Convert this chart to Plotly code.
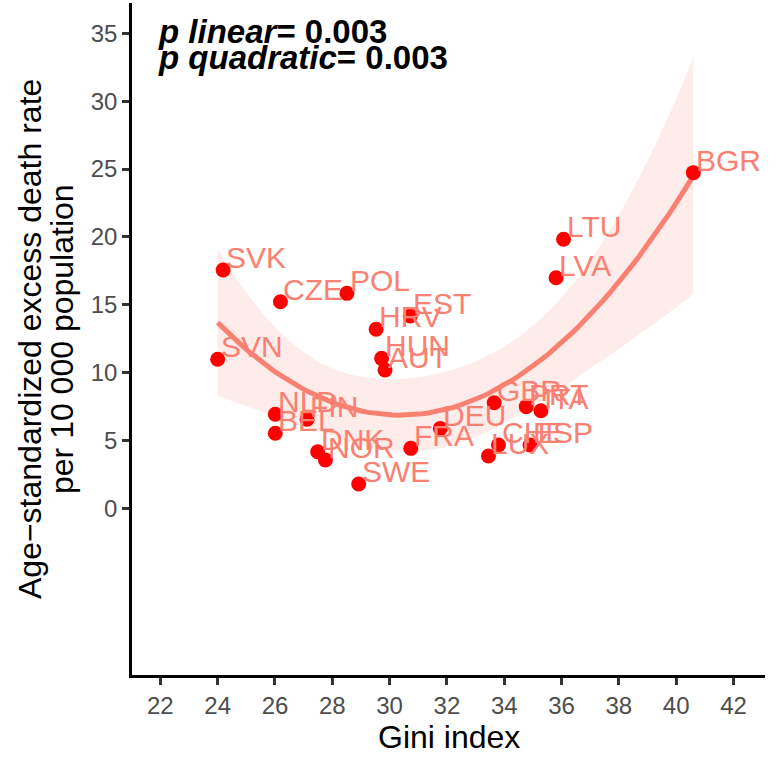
import numpy as np
import plotly.graph_objects as go

# Country codes, Gini index and age-standardized excess death rate
countries = ["SVK", "SVN", "CZE", "POL", "EST", "HRV", "HUN", "AUT", "NLD", "BEL",
             "FIN", "DNK", "NOR", "SWE", "FRA", "DEU", "GBR", "PRT", "ITA", "LUX",
             "CHE", "ESP", "LTU", "LVA", "BGR"]
gini = [24.19, 24.00, 26.19, 28.51, 30.72, 29.53, 29.72, 29.84, 26.01, 26.01,
        27.12, 27.49, 27.76, 28.92, 30.74, 31.77, 33.65, 34.77, 35.28, 33.45,
        33.80, 34.90, 36.07, 35.81, 40.60]
excess = [17.56, 10.98, 15.22, 15.84, 14.17, 13.19, 11.05, 10.19, 6.93, 5.53,
          6.56, 4.17, 3.56, 1.79, 4.42, 5.89, 7.78, 7.49, 7.19, 3.85,
          4.66, 4.66, 19.82, 16.99, 24.73]

x_ticks = list(range(22, 43, 2))
y_ticks = list(range(0, 36, 5))
p_linear = "0.003"
p_quadratic = "0.003"

FONT = "Liberation Sans, Arial, sans-serif"
SALMON = "#FA8072"

# Quadratic OLS fit with 95% confidence band
x = np.asarray(gini)
y = np.asarray(excess)
X = np.column_stack([np.ones_like(x), x, x ** 2])
beta, *_ = np.linalg.lstsq(X, y, rcond=None)
resid = y - X @ beta
dof = len(x) - 3
sigma2 = resid @ resid / dof
cov = sigma2 * np.linalg.inv(X.T @ X)
xg = np.linspace(x.min(), x.max(), 80)
Xg = np.column_stack([np.ones_like(xg), xg, xg ** 2])
yg = Xg @ beta
se = np.sqrt(np.einsum("ij,jk,ik->i", Xg, cov, Xg))
t_crit = 2.074  # t(0.975, df=22)
lo = yg - t_crit * se
hi = yg + t_crit * se

fig = go.Figure()
fig.add_trace(go.Scatter(x=xg, y=lo, mode="lines", line=dict(width=0),
                         hoverinfo="skip", showlegend=False))
fig.add_trace(go.Scatter(x=xg, y=hi, mode="lines", line=dict(width=0),
                         fill="tonexty", fillcolor="rgba(250,128,114,0.15)",
                         hoverinfo="skip", showlegend=False))
fig.add_trace(go.Scatter(x=xg, y=yg, mode="lines",
                         line=dict(color=SALMON, width=5), showlegend=False))
fig.add_trace(go.Scatter(x=gini, y=excess, mode="markers",
                         marker=dict(color="#FF0000", size=15), showlegend=False))

annotations = []
for c, gx, ey in zip(countries, gini, excess):
    annotations.append(dict(x=gx, y=ey, xref="x", yref="y", text=c, showarrow=False,
                            xanchor="left", yanchor="bottom", xshift=1, yshift=-6,
                            font=dict(family=FONT, size=30, color=SALMON)))

# p-value labels
annotations.append(dict(x=0, y=1, xref="paper", yref="paper", xanchor="left", yanchor="middle",
                        xshift=24, yshift=-28, showarrow=False,
                        text=f"<b><i>p linear</i>= {p_linear}</b>",
                        font=dict(family=FONT, size=33, color="black")))
annotations.append(dict(x=0, y=1, xref="paper", yref="paper", xanchor="left", yanchor="middle",
                        xshift=24, yshift=-54, showarrow=False,
                        text=f"<b><i>p quadratic</i>= {p_quadratic}</b>",
                        font=dict(family=FONT, size=33, color="black")))

# axis titles
annotations.append(dict(x=0.5, y=0, xref="paper", yref="paper", xanchor="center", yanchor="middle",
                        yshift=-62, showarrow=False, text="Gini index",
                        font=dict(family=FONT, size=32, color="black")))
annotations.append(dict(x=0, y=0.5, xref="paper", yref="paper", xanchor="center", yanchor="middle",
                        xshift=-102, showarrow=False, textangle=-90,
                        text="Age\u2212standardized excess death rate",
                        font=dict(family=FONT, size=32, color="black")))
annotations.append(dict(x=0, y=0.5, xref="paper", yref="paper", xanchor="center", yanchor="middle",
                        xshift=-70, showarrow=False, textangle=-90,
                        text="per 10 000 population",
                        font=dict(family=FONT, size=32, color="black")))

axis_common = dict(showgrid=False, zeroline=False, showline=True, linecolor="black",
                   linewidth=2.5, ticks="outside", ticklen=7, tickwidth=2.5,
                   tickcolor="#333333",
                   tickfont=dict(family=FONT, size=24, color="#4D4D4D"))

fig.update_layout(
    width=782, height=757,
    margin=dict(l=132, r=17, t=3, b=82),
    paper_bgcolor="white", plot_bgcolor="white",
    xaxis=dict(range=[21.01, 43.1], tickvals=x_ticks, **axis_common),
    yaxis=dict(range=[-12.28, 37.23], tickvals=y_ticks, **axis_common),
    annotations=annotations,
    showlegend=False,
)

fig.write_html("out.html")
